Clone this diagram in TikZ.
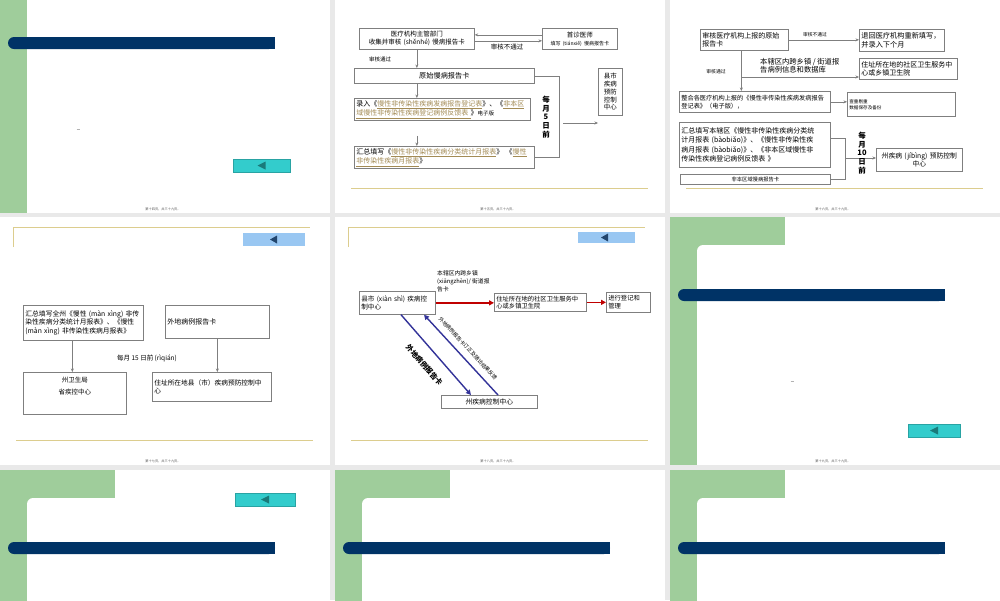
\documentclass[tikz,border=0pt]{standalone}
\usepackage{fontspec}
\setmainfont{Noto Sans CJK SC}
\usetikzlibrary{arrows.meta}
\definecolor{gapgray}{HTML}{E9E9E9}
\definecolor{leafgreen}{HTML}{9FCD9B}
\definecolor{navyblue}{HTML}{003366}
\definecolor{cyanbtn}{HTML}{33CCCC}
\definecolor{cyanedge}{HTML}{29A3A3}
\definecolor{cyantri}{HTML}{1A7A7A}
\definecolor{bluebtn}{HTML}{99C7F2}
\definecolor{bluetri}{HTML}{22466E}
\definecolor{goldline}{HTML}{DCCD8E}
\definecolor{linegray}{HTML}{7F7F7F}
\definecolor{linkgold}{HTML}{A38B55}
\definecolor{arrowred}{HTML}{C00000}
\definecolor{arrowblue}{HTML}{333399}
\definecolor{footgray}{HTML}{555555}
\newcommand{\goldlink}[1]{\textcolor{linkgold}{\underline{#1}}}
\tikzset{
  card/.style={
    rectangle, draw=linegray, line width=0.7pt, fill=white,
    inner sep=2pt, anchor=north west
  },
  lbl/.style={inner sep=1pt},
  foot/.style={inner sep=0pt, font=\fontsize{3.2}{4}\selectfont, text=footgray},
  plain/.style={draw=linegray, line width=0.7pt},
  flow/.style={plain, -{Stealth[length=3.5pt, width=3pt]}},
  redflow/.style={draw=arrowred, line width=1.6pt, -{Triangle[length=5pt, width=5pt]}},
  blueflow/.style={draw=arrowblue, line width=1.4pt, -{Triangle[length=5pt, width=5pt]}},
  rule/.style={draw=goldline, line width=0.9pt}
}
\begin{document}
\begin{tikzpicture}[x=1pt, y=-1pt]
\useasboundingbox (0,0) rectangle (1000,600);
\fill[gapgray] (0,0) rectangle (1000,600);

% slide sheets
\foreach \sx/\sy in {0/-35,335/-35,670/-35,0/217,335/217,670/217,0/470,335/470,670/470}
  \fill[white] (\sx,\sy) rectangle ++(330,248);

% title slides: green frame and navy bar
\foreach \sx/\sy in {0/-35,670/217,0/470,335/470,670/470} {
  \begin{scope}[shift={(\sx,\sy)}]
    \fill[leafgreen] (0,0) rectangle (27,248);
    \fill[leafgreen] (0,0) rectangle (115,28);
    \fill[leafgreen] (27,28) rectangle (33,34);
    \fill[white] (33,34) circle[radius=6pt];
    \fill[navyblue, rounded corners=6pt] (8,72) rectangle (275,84);
    \fill[navyblue] (100,72) rectangle (275,84);
  \end{scope}
}

% back buttons
\filldraw[fill=cyanbtn, draw=cyanedge, line width=0.6pt] (233,159) rectangle (290,172);
\fill[cyantri] (257.5,165.5) -- ++(8,-4) -- ++(0,8) -- cycle;
\filldraw[fill=cyanbtn, draw=cyanedge, line width=0.6pt] (908,424) rectangle (960,437);
\fill[cyantri] (930,430.5) -- ++(8,-4) -- ++(0,8) -- cycle;
\filldraw[fill=cyanbtn, draw=cyanedge, line width=0.6pt] (235,493) rectangle (295,506);
\fill[cyantri] (261,499.5) -- ++(8,-4) -- ++(0,8) -- cycle;
\draw[gray!60, line width=0.4pt] (76.5,129) -- (79.5,129);
\draw[gray!60, line width=0.4pt] (790.5,381) -- (793.5,381);
\node[foot] (foot1) at (163,209) {第十四页，共三十九页。};
\node[foot] (foot6) at (833,461) {第十九页，共三十九页。};

% slide: report card flow
\begin{scope}[shift={(335,-35)}]
  \node[card, text width=111pt, minimum height=21pt, align=center,
    font=\fontsize{6.5}{8}\selectfont] (dept) at (24,63)
    {医疗机构主管部门\\收集并审核 (shěnhé) 慢病报告卡};
  \node[card, text width=71pt, minimum height=21pt, align=center,
    font=\fontsize{6.5}{8}\selectfont] (doctor) at (207,63)
    {首诊医师\\{\fontsize{5}{6}\selectfont 填写 (tiánxiě) 慢病报告卡}};
  \draw[flow] ([yshift=4pt]doctor.west) -- ([yshift=4pt]dept.east);
  \draw[flow] ([yshift=-2pt]dept.east) -- ([yshift=-2pt]doctor.west);
  \node[lbl, font=\fontsize{6.5}{8}\selectfont] (reject) at (172,82) {审核不通过};
  \node[lbl, font=\fontsize{5.5}{7}\selectfont] (pass) at (45,94) {审核通过};

  \node[card, text width=176pt, minimum height=15pt, align=center,
    font=\fontsize{7.2}{9}\selectfont] (rawcard) at (19,103) {原始慢病报告卡};
  \draw[flow] (dept.south) -- (dept.south |- rawcard.north);
  \node[card, text width=172pt, minimum height=19pt, align=left,
    font=\fontsize{7}{8}\selectfont] (entry) at (19,133)
    {录入《\goldlink{慢性非传染性疾病发病报告登记表}》、《\goldlink{非本区}\\\goldlink{域慢性非传染性疾病登记病例反馈表 }》{\fontsize{5.5}{6}\selectfont 电子版}};
  \draw[flow] (dept.south |- rawcard.south) -- (dept.south |- entry.north);
  \node[card, text width=176pt, minimum height=21pt, align=left,
    font=\fontsize{7}{8}\selectfont] (summary) at (19,181)
    {汇总填写《\goldlink{慢性非传染性疾病分类统计月报表}》 《\goldlink{慢性}\\\goldlink{非传染性疾病月报表}》};
  \draw[flow, shorten <=15pt] (dept.south |- entry.south) -- (dept.south |- summary.north);

  % monthly report
  \draw[plain] (rawcard.east) -- ++(25,0) |- (summary.east);
  \node[lbl, align=center, font=\fontsize{7.5}{8.6}\selectfont\bfseries] (before5) at (211,152)
    {每\\月\\5\\日\\前};
  \node[card, text width=20pt, minimum height=47pt, align=center,
    font=\fontsize{6.5}{7.8}\selectfont] (county) at (263,103) {县市\\疾病\\预防\\控制\\中心};
  \coordinate (send5) at (228,158);
  \draw[flow] (send5) -- (send5 -| county.west);

  \draw[rule] (16,223) -- (313,223);
  \node[foot] (foot2) at (163,244) {第十五页，共三十九页。};
\end{scope}

% slide: county review
\begin{scope}[shift={(670,-35)}]
  \node[card, text width=84pt, minimum height=21pt, align=left,
    font=\fontsize{7}{8.5}\selectfont] (check) at (30,64) {审核医疗机构上报的原始\\报告卡};
  \node[card, text width=81pt, minimum height=22pt, align=left,
    font=\fontsize{7.2}{9}\selectfont] (returnbox) at (189,64) {退回医疗机构重新填写，\\并录入下个月};
  \draw[flow] (check.east) -- (check.east -| returnbox.west);
  \node[lbl, font=\fontsize{4.8}{5.5}\selectfont] (fail3) at (145,70) {审核不通过};

  \node[card, text width=94pt, minimum height=21pt, align=left,
    font=\fontsize{7}{8.5}\selectfont] (township) at (189,93) {住址所在地的社区卫生服务中\\心或乡镇卫生院};
  \node[card, text width=147pt, minimum height=21pt, align=left,
    font=\fontsize{6.2}{7.8}\selectfont] (merge) at (9,126)
    {整合各医疗机构上报的《慢性非传染性疾病发病报告\\登记表》（电子版），};
  \coordinate (trunk) at ([xshift=-3pt]check.south);
  \draw[flow] (trunk) -- (trunk |- merge.north);
  \coordinate (branch) at (71,112);
  \draw[flow] (branch) -- (branch -| township.west);
  \node[lbl, anchor=west, align=left, font=\fontsize{7.3}{8}\selectfont] (crossarea) at (89,100.5)
    {本辖区内跨乡镇 / 街道报\\告病例信息和数据库};
  \node[lbl, font=\fontsize{4.8}{5.5}\selectfont] (pass3) at (46,107) {审核通过};

  \node[card, text width=104pt, minimum height=24pt, align=left,
    font=\fontsize{4.6}{6}\selectfont] (dedup) at (177,127) {查重剔重\\数据保存及备份};
  \draw[flow] (merge.east) -- (merge.east -| dedup.west);

  % monthly report
  \node[card, text width=147pt, minimum height=45pt, align=left,
    font=\fontsize{7}{9.2}\selectfont] (monthly) at (9,157)
    {汇总填写本辖区《慢性非传染性疾病分类统\\计月报表 (bàobiǎo)》、《慢性非传染性疾\\病月报表 (bàobiǎo)》、《非本区域慢性非\\传染性疾病登记病例反馈表 》};
  \node[card, text width=146pt, minimum height=10pt, inner ysep=1pt, align=center,
    font=\fontsize{5.3}{6}\selectfont] (nonlocal) at (10,209) {非本区域慢病报告卡};
  \draw[plain] ([yshift=7pt]monthly.east) -- ++(15,0) |- (nonlocal.east);
  \node[card, text width=82pt, minimum height=23pt, align=center,
    font=\fontsize{6.8}{8.5}\selectfont] (prefecture) at (206,183) {州疾病 (jíbìng) 预防控制\\中心};
  \coordinate (send10) at (175,193);
  \draw[flow] (send10) -- (send10 -| prefecture.west);
  \node[lbl, align=center, font=\fontsize{7.5}{8.6}\selectfont\bfseries] (before10) at (192,188)
    {每\\月\\10\\日\\前};

  \draw[rule] (16,223) -- (313,223);
  \node[foot] (foot3) at (163,244) {第十六页，共三十九页。};
\end{scope}

% slide: prefecture report
\begin{scope}[shift={(0,217)}]
  \draw[rule] (13,30) -- (13,10) -- (310,10);
  \fill[bluebtn] (243,16) rectangle (305,29);
  \fill[bluetri] (270,22.5) -- ++(7,-4) -- ++(0,8) -- cycle;

  \node[card, text width=116pt, minimum height=35pt, align=left,
    font=\fontsize{6.8}{8.3}\selectfont] (statewide) at (23,88)
    {汇总填写全州《慢性 (màn xìng) 非传\\染性疾病分类统计月报表》、《慢性\\(màn xìng) 非传染性疾病月报表》};
  \node[card, text width=100pt, minimum height=33pt, align=left,
    font=\fontsize{7}{8}\selectfont] (outcard) at (165,88) {外地病例报告卡};
  \node[card, text width=99pt, minimum height=42pt] (health) at (23,155) {};
  \node[lbl, anchor=north, align=center, font=\fontsize{6.5}{12}\selectfont] (healthtext)
    at ([yshift=-4pt]health.north) {州卫生局\\省疾控中心};
  \node[card, text width=115pt, minimum height=29pt, align=left,
    font=\fontsize{6.7}{8.5}\selectfont] (residence) at (152,155)
    {住址所在地县（市）疾病预防控制中\\心};
  \coordinate (down4) at ([xshift=-11pt]statewide.south);
  \draw[flow] (down4) -- (down4 |- health.north);
  \draw[flow] (outcard.south) -- (outcard.south |- residence.north);
  \node[lbl, font=\fontsize{6.5}{8}\selectfont] (before15) at (147,141) {每月 15 日前 (rìqián)};

  \draw[rule] (16,223) -- (313,223);
  \node[foot] (foot4) at (163,244) {第十七页，共三十九页。};
\end{scope}

% slide: cross-area cases
\begin{scope}[shift={(335,217)}]
  \draw[rule] (13,30) -- (13,10) -- (310,10);
  \fill[bluebtn] (243,15) rectangle (300,26);
  \fill[bluetri] (266,20.5) -- ++(7,-4) -- ++(0,8) -- cycle;

  \node[card, text width=72pt, minimum height=23pt, align=left,
    font=\fontsize{6.6}{8.5}\selectfont] (countycdc) at (24,74) {县市 (xiàn shì) 疾病控\\制中心};
  \node[card, text width=88pt, minimum height=18pt, align=left,
    font=\fontsize{6.3}{7.5}\selectfont] (community) at (159,76) {住址所在地的社区卫生服务中\\心或乡镇卫生院};
  \node[card, text width=40pt, minimum height=20pt, align=left,
    font=\fontsize{6.3}{8}\selectfont] (register) at (271,75) {进行登记和\\管理};
  \draw[redflow] (countycdc.east) -- (countycdc.east -| community.west);
  \draw[redflow] (community.east) -- (community.east -| register.west);
  \node[lbl, anchor=north west, align=left, font=\fontsize{5.8}{8.3}\selectfont] (crossnote) at (101,52)
    {本辖区内跨乡镇\\(xiāngzhèn)/ 街道报\\告卡};

  \node[card, text width=92pt, minimum height=13pt, inner ysep=1pt, align=center,
    font=\fontsize{6.8}{8}\selectfont] (statecdc) at (106,178) {州疾病控制中心};
  \draw[blueflow] ([xshift=42pt]countycdc.south west) --
    node[midway, sloped, below=8pt, font=\fontsize{7.3}{8}\selectfont\bfseries] (outlabel) {外地病例报告卡}
    ([xshift=30pt]statecdc.north west);
  \draw[blueflow] ([xshift=57pt]statecdc.north west) --
    node[midway, sloped, above=3pt, font=\fontsize{5.2}{6}\selectfont] (feedlabel) {外地病例报告卡订正及随访结果反馈}
    ([xshift=65pt]countycdc.south west);

  \draw[rule] (16,223) -- (313,223);
  \node[foot] (foot5) at (163,244) {第十八页，共三十九页。};
\end{scope}

\end{tikzpicture}
\end{document}
